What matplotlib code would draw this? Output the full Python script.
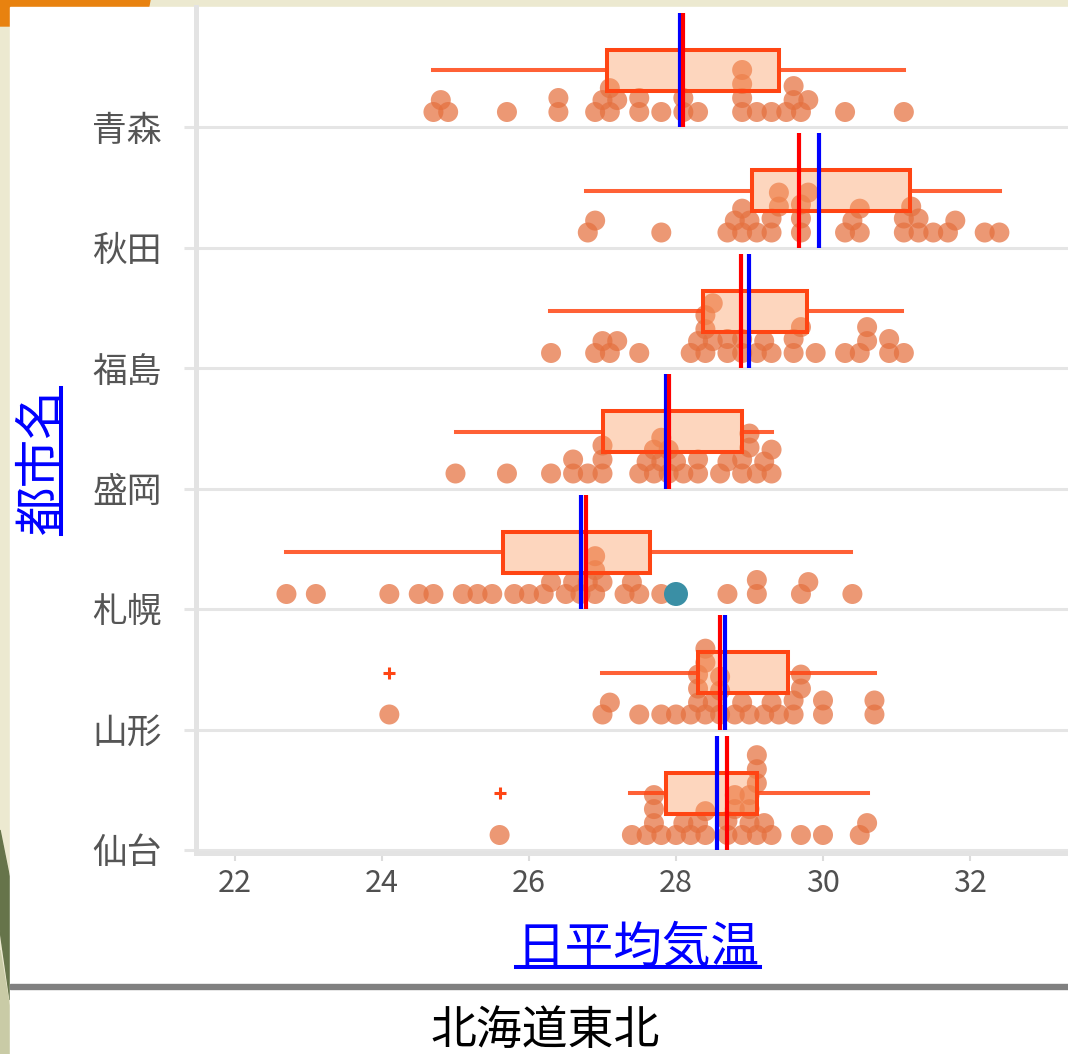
import numpy as np
import matplotlib
matplotlib.use('Agg')
import matplotlib.pyplot as plt
from matplotlib.patches import Rectangle, Polygon
from matplotlib.lines import Line2D

plt.rcParams['font.family'] = ['Noto Sans CJK JP', 'DejaVu Sans']

# ---------------- data ----------------
cities = ['青森', '秋田', '福島', '盛岡', '札幌', '山形', '仙台']

aomori = [24.7, 24.8, 24.9, 25.7, 26.4, 26.4, 26.9, 27.0, 27.1, 27.1, 27.2, 27.5, 27.5,
          27.8, 28.1, 28.1, 28.3, 28.9, 28.9, 28.9, 28.9, 29.1, 29.3, 29.5, 29.6, 29.6,
          29.7, 29.8, 30.3, 31.1]
akita = [26.8, 26.9, 27.8, 28.7, 28.8, 28.9, 28.9, 29.0, 29.1, 29.3, 29.3, 29.4, 29.4,
         29.7, 29.7, 29.7, 29.8, 30.3, 30.4, 30.5, 30.5, 31.1, 31.1, 31.2, 31.3, 31.3,
         31.5, 31.7, 31.8, 32.2, 32.4]
fukushima = [26.3, 26.9, 27.0, 27.1, 27.2, 27.5, 28.2, 28.3, 28.4, 28.4, 28.4, 28.5, 28.5,
             28.7, 28.7, 28.9, 28.9, 29.1, 29.2, 29.3, 29.6, 29.6, 29.7, 29.9, 30.3, 30.5,
             30.6, 30.6, 30.9, 30.9, 31.1]
morioka = [25.0, 25.7, 26.3, 26.6, 26.6, 26.8, 27.0, 27.0, 27.0, 27.5, 27.6, 27.7, 27.7,
           27.8, 27.8, 27.9, 27.9, 28.0, 28.1, 28.3, 28.3, 28.6, 28.7, 28.9, 28.9, 29.0,
           29.0, 29.1, 29.2, 29.3, 29.3]
sapporo = [22.7, 23.1, 24.1, 24.5, 24.7, 25.1, 25.3, 25.5, 25.8, 26.0, 26.2, 26.3, 26.5,
           26.6, 26.7, 26.8, 26.9, 26.9, 26.9, 27.0, 27.3, 27.4, 27.5, 27.8, 28.0, 28.7,
           29.1, 29.1, 29.7, 29.8, 30.4]
yamagata = [24.1, 27.0, 27.1, 27.5, 27.8, 28.0, 28.2, 28.3, 28.3, 28.3, 28.4, 28.4, 28.4,
            28.5, 28.6, 28.6, 28.6, 28.8, 28.9, 29.0, 29.2, 29.3, 29.4, 29.6, 29.6, 29.7,
            29.7, 30.0, 30.0, 30.7, 30.7]
sendai = [25.6, 27.4, 27.6, 27.7, 27.7, 27.7, 27.8, 28.0, 28.1, 28.2, 28.3, 28.4, 28.4,
          28.7, 28.7, 28.8, 28.8, 28.9, 29.0, 29.0, 29.0, 29.1, 29.1, 29.1, 29.1, 29.2,
          29.3, 29.7, 30.0, 30.5, 30.6]
city_values = [aomori, akita, fukushima, morioka, sapporo, yamagata, sendai]

medians = [28.10, 29.67, 28.89, 27.90, 26.78, 28.60, 28.70]
means = [28.05, 29.94, 28.99, 27.87, 26.71, 28.67, 28.56]
q1s = [27.06, 29.03, 28.37, 27.00, 25.65, 28.30, 27.87]
q3s = [29.40, 31.18, 29.78, 28.90, 27.65, 29.53, 29.10]
whis_lo = [24.70, 26.78, 26.29, 25.00, 22.69, 26.99, 27.37]
whis_hi = [31.10, 32.41, 31.07, 29.30, 30.38, 30.71, 30.61]
outliers = [[], [], [], [], [], [24.1], [25.6]]

highlight_city = '札幌'
highlight_value = 28.0

xticks = [22, 24, 26, 28, 30, 32]
x_title = '日平均気温'
y_title = '都市名'
chart_title = '北海道東北'

# ---------------- layout (pixel geometry) ----------------
W, H = 1068, 1054
PX_PER_DEG = 73.5
X22_PX = 235.0
BAND_PX = 120.5
AX_L, AX_R = 196.0, 1068.0
AX_TOP, AX_BOT = 6.5, 853.0


def px2x(px):
    return 22 + (px - X22_PX) / PX_PER_DEG


def dodge(values, d):
    xs = np.asarray(values, dtype=float) * PX_PER_DEG
    order = np.argsort(xs, kind='stable')
    placed = []
    ys = np.zeros(len(xs))
    for idx in order:
        x = xs[idx]
        near = [(px, py) for px, py in placed if abs(px - x) < d]
        cands = [0.0]
        for px, py in near:
            h = np.sqrt(d * d - (px - x) ** 2)
            cands.append(py + h)
            if py - h >= 0:
                cands.append(py - h)
        cands.sort()
        for c in cands:
            if all((px - x) ** 2 + (py - c) ** 2 >= d * d - 1e-6 for px, py in near):
                ys[idx] = c
                break
        placed.append((x, ys[idx]))
    return ys


fig = plt.figure(figsize=(W / 100, H / 100), dpi=100)
fig.patch.set_facecolor('#ECE9D0')

# decorative slide background
fig.add_artist(Polygon([[0, 1], [150 / W, 1], [145 / W, 1 - 26 / H], [0, 1 - 26 / H]],
                       closed=True, transform=fig.transFigure, color='#E8820F', zorder=-5))
fig.add_artist(Polygon([[0, 1 - 830 / H], [10 / W, 1 - 880 / H], [10 / W, 1 - 1000 / H], [0, 1 - 930 / H]],
                       closed=True, transform=fig.transFigure, color='#66744A', zorder=-5))
fig.add_artist(Polygon([[0, 1 - 950 / H], [10 / W, 1 - 1010 / H], [10 / W, 1 - 1054 / H], [0, 1 - 1054 / H]],
                       closed=True, transform=fig.transFigure, color='#C9CBA6', zorder=-5))
fig.add_artist(Rectangle((10 / W, 0), (W - 10) / W, (H - 7) / H, transform=fig.transFigure,
                         color='white', zorder=-4))
fig.add_artist(Rectangle((10 / W, 1 - 989 / H), (W - 10) / W, 5 / H, transform=fig.transFigure,
                         color='#808080', zorder=-3))

ax = fig.add_axes([AX_L / W, (H - AX_BOT) / H, (AX_R - AX_L) / W, (AX_BOT - AX_TOP) / H])
ax.set_zorder(5)
ax.set_facecolor('none')
ax.set_xlim(px2x(AX_L), px2x(AX_R))
ax.set_ylim(6 + 3 / BAND_PX, -1)

# dots
dot_d_px = 20
dot_s = (dot_d_px * 0.72) ** 2
for i, vals in enumerate(city_values):
    offs = dodge(vals, 14.0)
    ys = i - (15 + offs) / BAND_PX
    ax.scatter(vals, ys, s=dot_s, color='#E5703F', alpha=0.72, edgecolors='none', zorder=2)

# highlight
hi = cities.index(highlight_city)
hl_off = dodge(city_values[hi], 14.0)[city_values[hi].index(highlight_value)]
ax.scatter([highlight_value], [hi - (15 + hl_off) / BAND_PX], s=(24 * 0.72) ** 2,
           color='#3A8FA5', edgecolors='none', zorder=6)

# boxes
stats = []
for i in range(len(cities)):
    stats.append(dict(med=medians[i], q1=q1s[i], q3=q3s[i], whislo=whis_lo[i],
                      whishi=whis_hi[i], fliers=outliers[i], mean=means[i]))
positions = [i - 57 / BAND_PX for i in range(len(cities))]
edge = '#FF4513'
ax.bxp(stats, positions=positions, widths=41 / BAND_PX, orientation='horizontal',
       patch_artist=True, showcaps=False, showmeans=False, manage_ticks=False,
       boxprops=dict(facecolor=(0.99, 0.60, 0.37, 0.40), edgecolor=edge, linewidth=2.9),
       whiskerprops=dict(color=edge, linewidth=2.9, alpha=0.85),
       medianprops=dict(linewidth=0, alpha=0),
       flierprops=dict(marker='+', markeredgecolor=edge, markersize=9, markeredgewidth=2.2),
       zorder=3)

# mean (blue) and median (red) lines spanning each band
for i in range(len(cities)):
    ax.vlines(means[i], i - 1 + 6 / BAND_PX, i, color='#0000FF', linewidth=3.0, zorder=4)
    ax.vlines(medians[i], i - 1 + 6 / BAND_PX, i, color='#FF0000', linewidth=3.0, zorder=4.5)

# axes styling
for s in ['top', 'right']:
    ax.spines[s].set_visible(False)
ax.spines['left'].set_color('#E3E3E3')
ax.spines['left'].set_linewidth(3.6)
ax.spines['bottom'].set_color('#E3E3E3')
ax.spines['bottom'].set_linewidth(3.6)

ax.set_yticks(range(len(cities)))
ax.set_yticklabels(cities)
ax.tick_params(axis='y', length=8.5, width=2.2, color='#E5E5E5', pad=16,
               labelsize=25, labelcolor='#555555')
ax.grid(axis='y', color='#E5E5E5', linewidth=2.2, zorder=1)
ax.set_axisbelow(True)

ax.set_xticks(xticks)
ax.set_xticklabels([str(t) for t in xticks])
ax.tick_params(axis='x', length=6, width=1.5, color='#DCDCDC', pad=5,
               labelsize=22, labelcolor='#505050')

# titles
xt = fig.text(638 / W, 1 - 948 / H, x_title, color='#0000FF', fontsize=35,
              ha='center', va='center')
yt = fig.text(42 / W, 1 - 461 / H, y_title, color='#0000FF', fontsize=35,
              ha='center', va='center', rotation=90)
fig.text(545 / W, 1 - 1031 / H, chart_title, color='black', fontsize=33,
         ha='center', va='center')

# underlines for blue axis titles
fig.canvas.draw()
r = fig.canvas.get_renderer()
bb = xt.get_window_extent(r)
uy = bb.y0 + 0.12 * (bb.y1 - bb.y0)
fig.add_artist(Line2D([bb.x0 / W, bb.x1 / W], [uy / H, uy / H], transform=fig.transFigure,
                      color='#0000FF', linewidth=2.9))
bb = yt.get_window_extent(r)
ux = bb.x1 - 0.12 * (bb.x1 - bb.x0)
fig.add_artist(Line2D([ux / W, ux / W], [bb.y0 / H, bb.y1 / H], transform=fig.transFigure,
                      color='#0000FF', linewidth=2.9))

fig.savefig('out.png', dpi=100, facecolor=fig.get_facecolor())
